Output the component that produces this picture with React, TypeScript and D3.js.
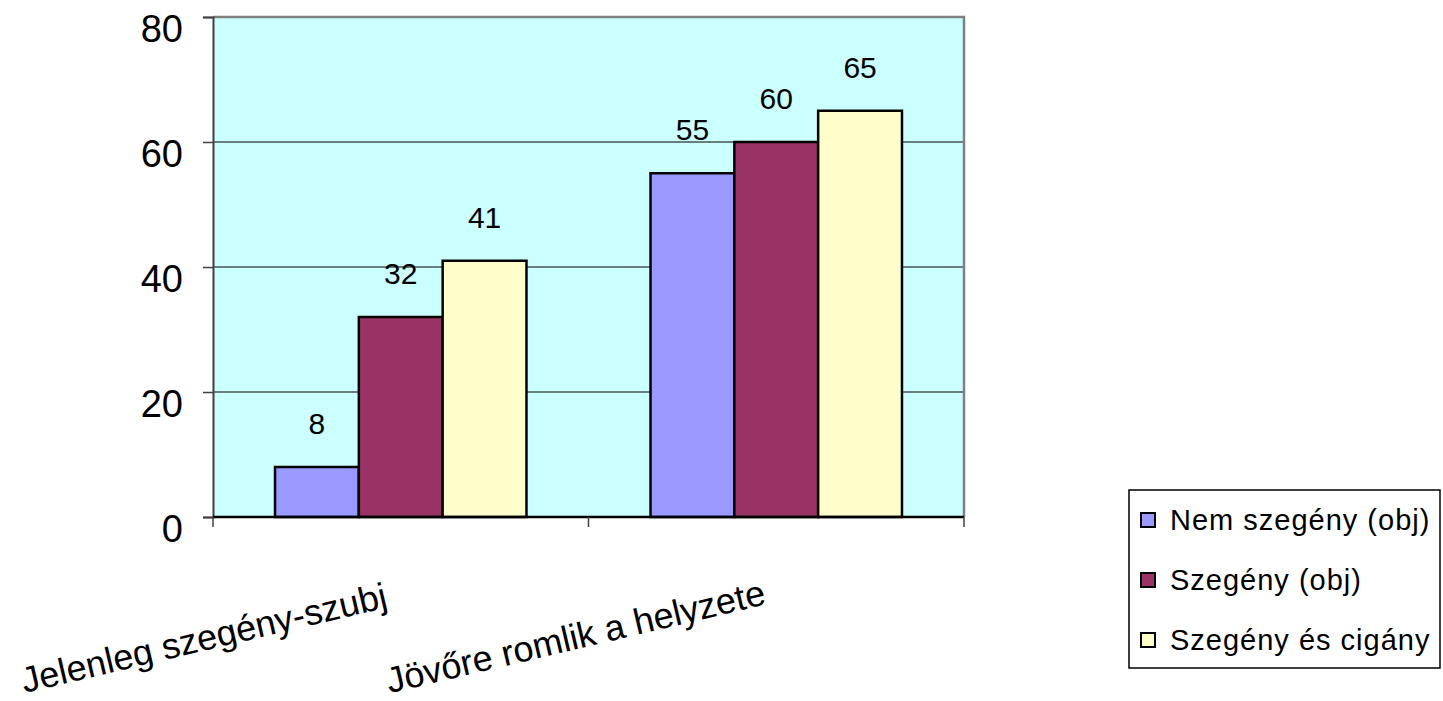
import React, { useEffect, useRef } from 'react';
import * as d3 from 'd3';

const categories = ['Jelenleg szegény-szubj', 'Jövőre romlik a helyzete'];
const seriesNames = ['Nem szegény (obj)', 'Szegény (obj)', 'Szegény és cigány'];
const seriesColors = ['#9999FF', '#993366', '#FFFFCC'];
const nemSzegeny = [8, 55];
const szegeny = [32, 60];
const szegenyCigany = [41, 65];
const yTicks = [0, 20, 40, 60, 80];

const FONT = 'Liberation Sans, Arial, sans-serif';

export default function App() {
  const ref = useRef<SVGSVGElement>(null);

  useEffect(() => {
    const svg = d3.select(ref.current);
    svg.selectAll('*').remove();

    const left = 213, top = 17, right = 964, bottom = 517;
    const series = [nemSzegeny, szegeny, szegenyCigany];

    const x0 = d3.scaleBand().domain(categories).range([left, right]).paddingInner(0).paddingOuter(0);
    const x1 = d3.scaleBand().domain(seriesNames).range([0, x0.bandwidth()]).paddingInner(0).paddingOuter(0.74);
    const y = d3.scaleLinear().domain([0, 80]).range([bottom, top]);

    // plot background
    svg.append('rect').attr('x', left).attr('y', top).attr('width', right - left).attr('height', bottom - top)
      .attr('fill', '#CCFFFF');

    // gridlines
    svg.append('g').selectAll('line').data(yTicks.filter(t => t > 0 && t < 80)).enter().append('line')
      .attr('x1', left).attr('x2', right).attr('y1', d => y(d)).attr('y2', d => y(d))
      .attr('stroke', '#000').attr('stroke-width', 1);

    // top & right border
    svg.append('path').attr('d', `M${left},${top}H${right}V${bottom}`)
      .attr('fill', 'none').attr('stroke', '#808080').attr('stroke-width', 2.5);

    // bars
    const groups = svg.append('g').selectAll('g').data(categories).enter().append('g')
      .attr('transform', d => `translate(${x0(d)},0)`);
    groups.each(function (cat, ci) {
      const g = d3.select(this);
      series.forEach((vals, si) => {
        const v = vals[ci];
        g.append('rect')
          .attr('x', x1(seriesNames[si])!).attr('y', y(v))
          .attr('width', x1.bandwidth()).attr('height', y(0) - y(v))
          .attr('fill', seriesColors[si]).attr('stroke', '#000').attr('stroke-width', 2.5);
        g.append('text')
          .attr('x', x1(seriesNames[si])! + x1.bandwidth() / 2).attr('y', y(v) - 33)
          .attr('text-anchor', 'middle').attr('font-family', FONT).attr('font-size', 30)
          .text(v);
      });
    });

    // y axis
    const yAxis = svg.append('g').attr('transform', `translate(${left},0)`)
      .call(d3.axisLeft(y).tickValues(yTicks).tickSize(10).tickPadding(20));
    yAxis.select('.domain').attr('stroke', '#404040').attr('stroke-width', 2);
    yAxis.selectAll('.tick line').attr('stroke', '#404040').attr('stroke-width', 1.5);
    yAxis.selectAll('.tick text').attr('font-family', FONT).attr('font-size', 38).attr('fill', '#000').attr('dy', '0.65em');

    // x axis
    const xAxis = svg.append('g').attr('transform', `translate(0,${bottom})`);
    xAxis.append('line').attr('x1', left).attr('x2', right).attr('stroke', '#000').attr('stroke-width', 2.5);
    xAxis.selectAll('line.tk').data([left, left + x0.bandwidth(), right]).enter().append('line')
      .attr('class', 'tk').attr('x1', d => d).attr('x2', d => d).attr('y1', 0).attr('y2', 10)
      .attr('stroke', '#404040').attr('stroke-width', 1.5);
    xAxis.selectAll('text').data(categories).enter().append('text')
      .attr('transform', (d, i) => `translate(${x0(d)! + x0.bandwidth() / 2 - (i === 0 ? 12 : 9)},${i === 0 ? 90 : 87}) rotate(-13.3)`)
      .attr('text-anchor', 'end').attr('font-family', FONT).attr('font-size', 36)
      .text(d => d);

    // legend
    const lg = svg.append('g').attr('transform', 'translate(1129,490)');
    lg.append('rect').attr('width', 311).attr('height', 178).attr('fill', '#fff').attr('stroke', '#000').attr('stroke-width', 1.5);
    seriesNames.forEach((name, i) => {
      const cy = 30 + i * 60;
      lg.append('rect').attr('x', 12).attr('y', cy - 7).attr('width', 14).attr('height', 14)
        .attr('fill', seriesColors[i]).attr('stroke', '#000').attr('stroke-width', 2);
      lg.append('text').attr('x', 41).attr('y', cy).attr('dy', '0.35em')
        .attr('font-family', FONT).attr('font-size', 29).attr('letter-spacing', 1).text(name);
    });
  }, []);

  return <svg ref={ref} width={1443} height={701} style={{ position: 'absolute', left: 0, top: 0 }} />;
}
